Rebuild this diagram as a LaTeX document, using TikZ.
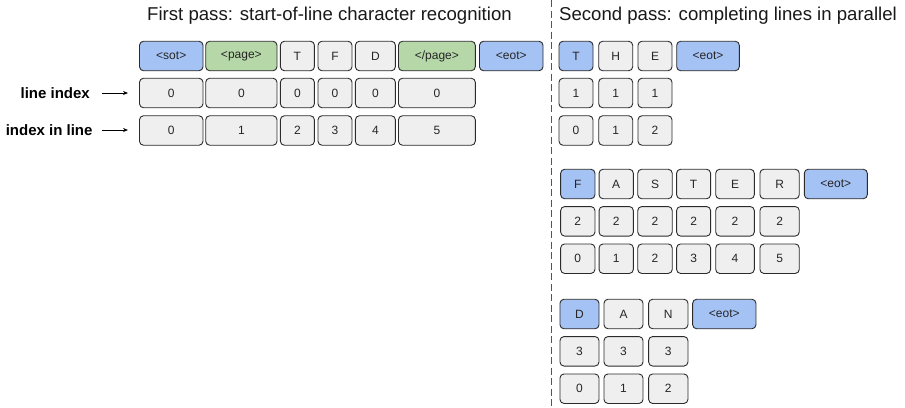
\documentclass[tikz,border=0pt]{standalone}
\usepackage{fontspec}
\setmainfont{Liberation Sans}
\usetikzlibrary{arrows.meta}
\definecolor{boxgray}{HTML}{EFEFEF}
\definecolor{boxblue}{HTML}{A4C2F4}
\definecolor{boxgreen}{HTML}{B6D7A8}
\definecolor{edge}{HTML}{2B2B2B}
\definecolor{sepline}{HTML}{555555}
\tikzset{
  tok/.style={draw=edge, line width=0.9pt, rounded corners=4pt, fill=boxgray,
    minimum height=29.5pt, inner sep=0pt, text=black!85,
    font=\fontsize{12}{14}\selectfont},
  gry/.style={fill=boxgray},
  blu/.style={fill=boxblue},
  grn/.style={fill=boxgreen},
  ttl/.style={font=\fontsize{18.6}{22}\selectfont, text=black!90, anchor=base, inner sep=0pt},
  rowlbl/.style={font=\bfseries\fontsize{15}{18}\selectfont, anchor=base east, inner sep=0pt},
  ptr/.style={-{Stealth[length=5pt,width=4pt]}, line width=0.8pt},
}
\newcommand\bx[6]{\node[tok,#2,minimum width=#5pt] (#1) at (#3,#4) {#6};}
\begin{document}
\begin{tikzpicture}[x=1pt,y=-1pt]
\useasboundingbox (0,0) rectangle (905,407);
% titles
\node[ttl] (t1) at (329.5,20.5) {First pass: start-of-line character recognition};
\node[ttl] (t2) at (728,20.5) {Second pass: completing lines in parallel};
% separator
\coordinate (s1) at (551,0);
\coordinate (s2) at (551,407);
\draw[sepline, line width=0.9pt, dash pattern=on 7pt off 3.5pt] (s1) -- (s2);
% first pass row 1
\bx{a1}{blu}{171.25}{56}{63.5}{<sot>}
\bx{a2}{grn}{241.35}{56}{71.3}{<page>}
\bx{a3}{gry}{297.4}{56}{34}{T}
\bx{a4}{gry}{335}{56}{34}{F}
\bx{a5}{gry}{375.4}{56}{40}{D}
\bx{a6}{grn}{436.9}{56}{76.8}{</page>}
\bx{a7}{blu}{511.25}{56}{63.5}{<eot>}
% row 2
\bx{b1}{gry}{171.25}{93}{63.5}{0}
\bx{b2}{gry}{241.35}{93}{71.3}{0}
\bx{b3}{gry}{297.4}{93}{34}{0}
\bx{b4}{gry}{335}{93}{34}{0}
\bx{b5}{gry}{375.4}{93}{40}{0}
\bx{b6}{gry}{436.9}{93}{76.8}{0}
% row 3
\bx{c1}{gry}{171.25}{130.5}{63.5}{0}
\bx{c2}{gry}{241.35}{130.5}{71.3}{1}
\bx{c3}{gry}{297.4}{130.5}{34}{2}
\bx{c4}{gry}{335}{130.5}{34}{3}
\bx{c5}{gry}{375.4}{130.5}{40}{4}
\bx{c6}{gry}{436.9}{130.5}{76.8}{5}
% row labels
\node[rowlbl] (l1) at (90,98) {line index};
\node[rowlbl] (l2) at (92.7,135) {index in line};
\coordinate (p1) at (102,93);
\coordinate (p2) at (102,130);
\coordinate (e1) at (128,93);
\coordinate (e2) at (128,130);
\draw[ptr] (p1) -- (e1);
\draw[ptr] (p2) -- (e2);
% THE
\bx{d1}{blu}{576}{56}{34}{T}
\bx{d2}{gry}{615.7}{56}{34}{H}
\bx{d3}{gry}{655}{56}{34}{E}
\bx{d4}{blu}{708}{56}{62.6}{<eot>}
\bx{e1b}{gry}{576}{93}{34}{1}
\bx{e2b}{gry}{615.7}{93}{34}{1}
\bx{e3b}{gry}{655}{93}{34}{1}
\bx{f1}{gry}{576}{130.5}{34}{0}
\bx{f2}{gry}{615.7}{130.5}{34}{1}
\bx{f3}{gry}{655}{130.5}{34}{2}
% FASTER
\bx{g1}{blu}{577.8}{184}{34.3}{F}
\bx{g2}{gry}{616.2}{184}{34.3}{A}
\bx{g3}{gry}{655}{184}{34.5}{S}
\bx{g4}{gry}{693.6}{184}{34}{T}
\bx{g5}{gry}{735}{184}{38.6}{E}
\bx{g6}{gry}{779.6}{184}{39.3}{R}
\bx{g7}{blu}{835.8}{184}{63}{<eot>}
\bx{h1}{gry}{577.8}{221.3}{34.3}{2}
\bx{h2}{gry}{616.2}{221.3}{34.3}{2}
\bx{h3}{gry}{655}{221.3}{34.5}{2}
\bx{h4}{gry}{693.6}{221.3}{34}{2}
\bx{h5}{gry}{735}{221.3}{38.6}{2}
\bx{h6}{gry}{779.6}{221.3}{39.3}{2}
\bx{i1}{gry}{577.8}{258.7}{34.3}{0}
\bx{i2}{gry}{616.2}{258.7}{34.3}{1}
\bx{i3}{gry}{655}{258.7}{34.5}{2}
\bx{i4}{gry}{693.6}{258.7}{34}{3}
\bx{i5}{gry}{735}{258.7}{38.6}{4}
\bx{i6}{gry}{779.6}{258.7}{39.3}{5}
% DAN
\bx{j1}{blu}{579.5}{314}{39}{D}
\bx{j2}{gry}{623.5}{314}{39}{A}
\bx{j3}{gry}{668.3}{314}{39.3}{N}
\bx{j4}{blu}{724.3}{314}{63.3}{<eot>}
\bx{k1}{gry}{579.5}{351.3}{39}{3}
\bx{k2}{gry}{623.5}{351.3}{39}{3}
\bx{k3}{gry}{668.3}{351.3}{39.3}{3}
\bx{m1}{gry}{579.5}{388.7}{39}{0}
\bx{m2}{gry}{623.5}{388.7}{39}{1}
\bx{m3}{gry}{668.3}{388.7}{39.3}{2}
\end{tikzpicture}
\end{document}
